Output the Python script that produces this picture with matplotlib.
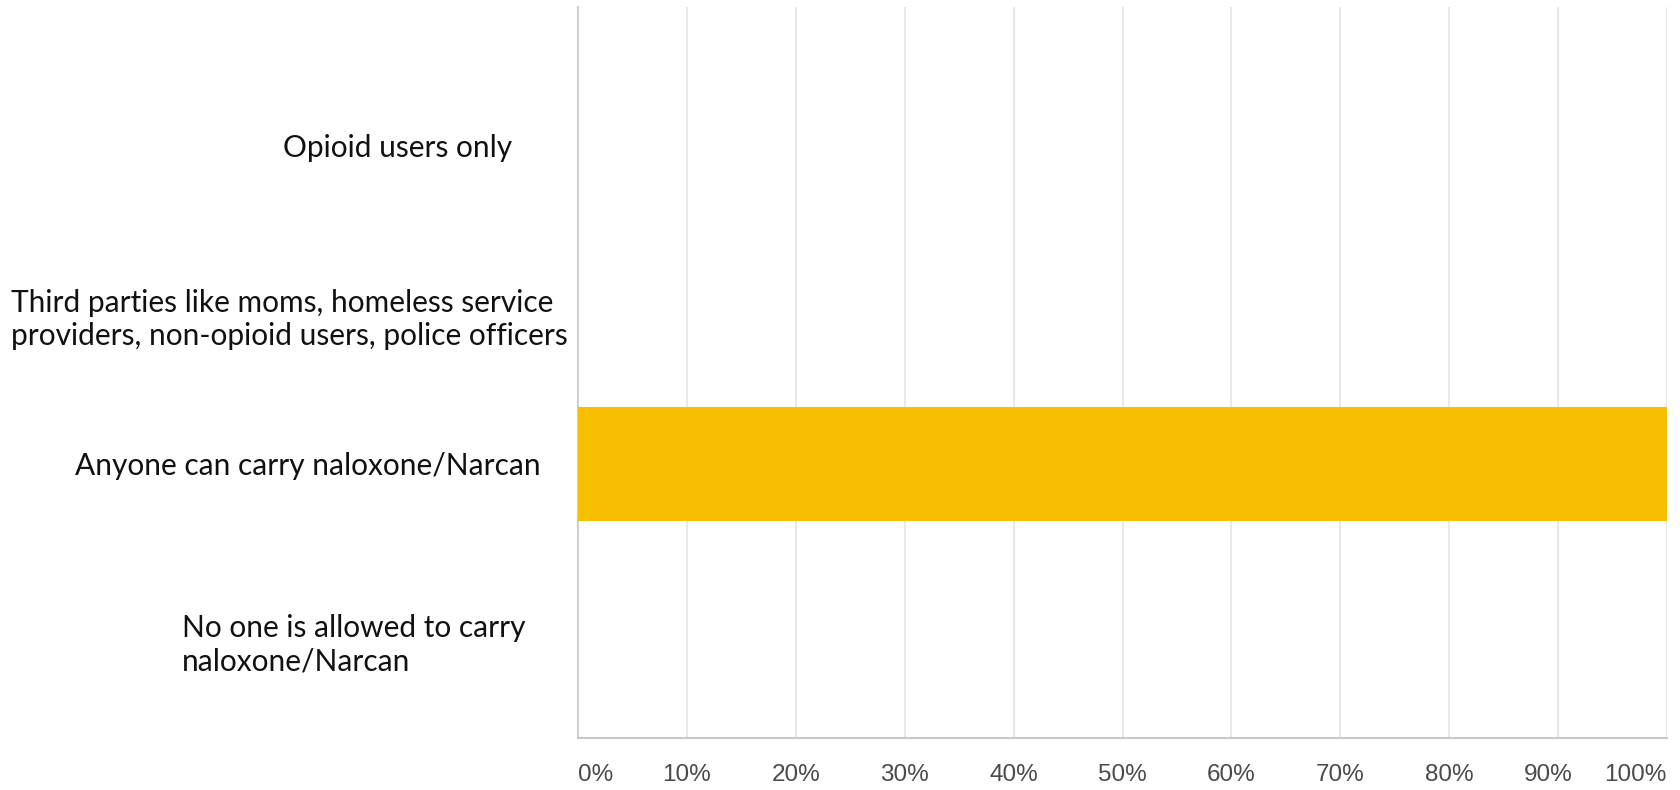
import matplotlib
matplotlib.use("Agg")
import matplotlib.pyplot as plt
import matplotlib.transforms as mtransforms

# Survey answers (percent of respondents)
categories = [
    "Opioid users only",
    "Third parties like moms, homeless service\nproviders, non-opioid users, police officers",
    "Anyone can carry naloxone/Narcan",
    "No one is allowed to carry\nnaloxone/Narcan",
]
percents = [0, 0, 100, 0]
tick_values = [0, 10, 20, 30, 40, 50, 60, 70, 80, 90, 100]
tick_labels = ["%d%%" % v for v in tick_values]

# where the category labels sit (fig x of right edge, data y)
label_right_px = [512, 568, 541, 525]
label_y = [0.27, 1.21, 2.01, 2.99]

W, H = 1681, 790
fig = plt.figure(figsize=(W / 100, H / 100), dpi=100)
ax = fig.add_axes([578 / W, 52 / H, (1667 - 578) / W, (738 - 7) / H])

ypos = list(range(len(categories)))
ax.barh(ypos, percents, height=0.62, color="#F8BE00", zorder=3)

ax.set_xlim(0, 100)
ax.set_ylim(len(categories) - 0.5, -0.5)
ax.set_yticks([])
ax.set_xticks(tick_values)
ax.set_xticklabels(tick_labels, fontsize=17.5, color="#4a4a4a",
                   family=["Liberation Sans", "DejaVu Sans"])
ax.tick_params(axis="x", length=0, pad=19)
ax.grid(axis="x", color="#E6E6E6", linewidth=1.3, zorder=0)

for side in ["top", "right"]:
    ax.spines[side].set_visible(False)
ax.spines["left"].set_color("#D0D0D0")
ax.spines["left"].set_linewidth(1.5)
ax.spines["bottom"].set_color("#C8C8C8")
ax.spines["bottom"].set_linewidth(1.5)

# keep first/last tick labels inside the plot like the original
tl = ax.get_xticklabels()
tl[0].set_ha("left")
tl[-1].set_ha("right")
tl[-2].set_transform(tl[-2].get_transform() +
                     mtransforms.ScaledTranslation(-0.1, 0, fig.dpi_scale_trans))

trans = mtransforms.blended_transform_factory(fig.transFigure, ax.transData)
for txt, xr, yy in zip(categories, label_right_px, label_y):
    ax.text(xr / W, yy, txt, transform=trans, ha="right", va="center",
            multialignment="left", fontsize=21.5, color="#111111",
            family=["Lato", "DejaVu Sans"], linespacing=1.25)

fig.savefig("out.png", dpi=100)
